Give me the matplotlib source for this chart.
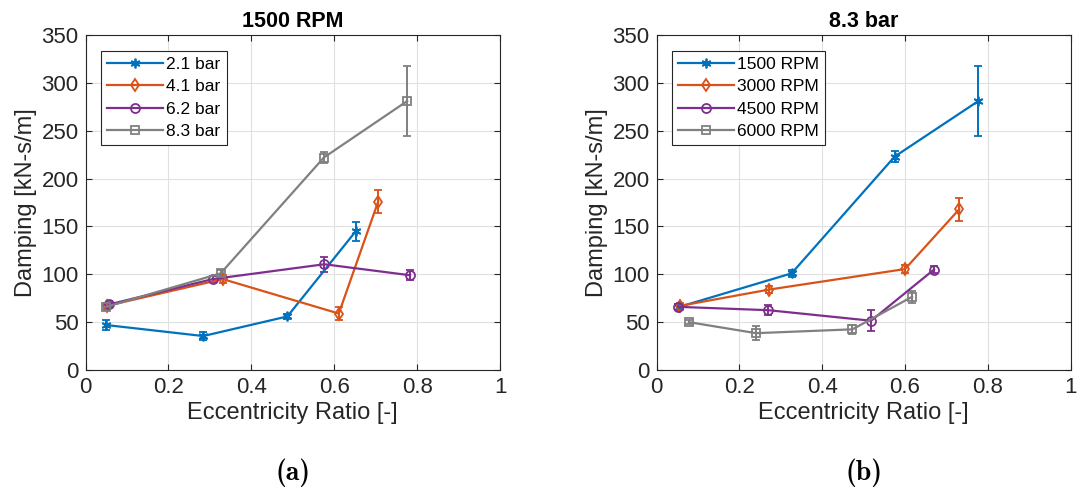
import matplotlib
matplotlib.use("Agg")
import matplotlib.pyplot as plt
from matplotlib.lines import Line2D

plt.rcParams['font.family'] = ['Liberation Sans', 'DejaVu Sans']

# panel (a): 1500 RPM, different supply pressures
ecc_21 = [0.050, 0.284, 0.487, 0.652]
damp_21 = [47, 35.5, 56, 145]
err_21 = [5, 4, 3, 10]

ecc_41 = [0.051, 0.331, 0.611, 0.706]
damp_41 = [67, 95, 59, 176]
err_41 = [3, 4, 7, 12]

ecc_62 = [0.057, 0.307, 0.576, 0.783]
damp_62 = [68.5, 95, 110.5, 99]
err_62 = [3, 3, 8, 5]

ecc_83 = [0.050, 0.326, 0.575, 0.776]
damp_83 = [66, 101, 222, 281]
err_83 = [3, 3, 6, 37]

# panel (b): 8.3 bar, different speeds
ecc_1500 = [0.055, 0.326, 0.575, 0.777]
damp_1500 = [66, 101, 223, 281]
err_1500 = [3, 4, 6, 37]

ecc_3000 = [0.056, 0.271, 0.600, 0.731]
damp_3000 = [67, 84, 105.5, 168]
err_3000 = [3, 4, 4, 12]

ecc_4500 = [0.052, 0.270, 0.518, 0.670]
damp_4500 = [66, 62.5, 51.5, 105]
err_4500 = [3, 5, 11, 4]

ecc_6000 = [0.078, 0.240, 0.473, 0.617]
damp_6000 = [50, 38.5, 42.5, 76.5]
err_6000 = [2, 7, 5, 6]

labels_a = ["2.1 bar", "4.1 bar", "6.2 bar", "8.3 bar"]
labels_b = ["1500 RPM", "3000 RPM", "4500 RPM", "6000 RPM"]

colors = ["#0072BD", "#D95319", "#7E2F8E", "#808080"]
markers = [(6, 2, 0), "d", "o", "s"]
msizes = [7, 6, 6.5, 5.5]

fig = plt.figure(figsize=(10.77, 4.91), dpi=100)
ax1 = fig.add_axes([0.0794, 0.2464, 0.3849, 0.6823])
ax2 = fig.add_axes([0.6097, 0.2464, 0.3844, 0.6823])

series_a = [(ecc_21, damp_21, err_21), (ecc_41, damp_41, err_41),
            (ecc_62, damp_62, err_62), (ecc_83, damp_83, err_83)]
series_b = [(ecc_1500, damp_1500, err_1500), (ecc_3000, damp_3000, err_3000),
            (ecc_4500, damp_4500, err_4500), (ecc_6000, damp_6000, err_6000)]

def draw(ax, series, labels, title):
    handles = []
    for (x, y, e), lab, c, m, ms in zip(series, labels, colors, markers, msizes):
        ax.errorbar(x, y, yerr=e, color=c, marker=m, markersize=ms,
                    markerfacecolor='none', markeredgewidth=1.3,
                    linewidth=1.6, capsize=3, elinewidth=1.4,
                    capthick=1.4)
        handles.append(Line2D([], [], color=c, marker=m, markersize=ms,
                              markerfacecolor='none', markeredgewidth=1.3,
                              linewidth=1.6, label=lab))
    ax.set_xlim(0, 1)
    ax.set_ylim(0, 350)
    ax.set_xticks([0, 0.2, 0.4, 0.6, 0.8, 1])
    ax.set_xticklabels(["0", "0.2", "0.4", "0.6", "0.8", "1"])
    ax.set_yticks(range(0, 351, 50))
    ax.grid(True, color="#e0e0e0", linewidth=0.8)
    ax.set_axisbelow(True)
    for s in ax.spines.values():
        s.set_color("#262626")
        s.set_linewidth(0.8)
    ax.tick_params(direction='in', length=4, width=0.8, labelsize=16,
                   colors="#262626", top=True, right=True, pad=5)
    ax.set_xlabel("Eccentricity Ratio [-]", fontsize=17, color="#262626",
                  labelpad=3)
    ax.set_ylabel("Damping [kN-s/m]", fontsize=17, color="#262626",
                  labelpad=3)
    ax.set_title(title, fontsize=15.5, fontweight='bold', pad=6)
    leg = ax.legend(handles=handles, loc='upper left', fontsize=12.5,
                    fancybox=False, edgecolor="#262626", framealpha=1,
                    handlelength=3.2, borderpad=0.35, labelspacing=0.42,
                    handletextpad=0.2, borderaxespad=0.9)
    leg.get_frame().set_linewidth(0.8)

draw(ax1, series_a, labels_a, "1500 RPM")
draw(ax2, series_b, labels_b, "8.3 bar")

fig.text(0.2718, 0.037, "(a)", ha='center', va='center', fontsize=20,
         family=['cmb10', 'DejaVu Serif'])
fig.text(0.8019, 0.037, "(b)", ha='center', va='center', fontsize=20,
         family=['cmb10', 'DejaVu Serif'])

fig.savefig("out.png", dpi=100)
